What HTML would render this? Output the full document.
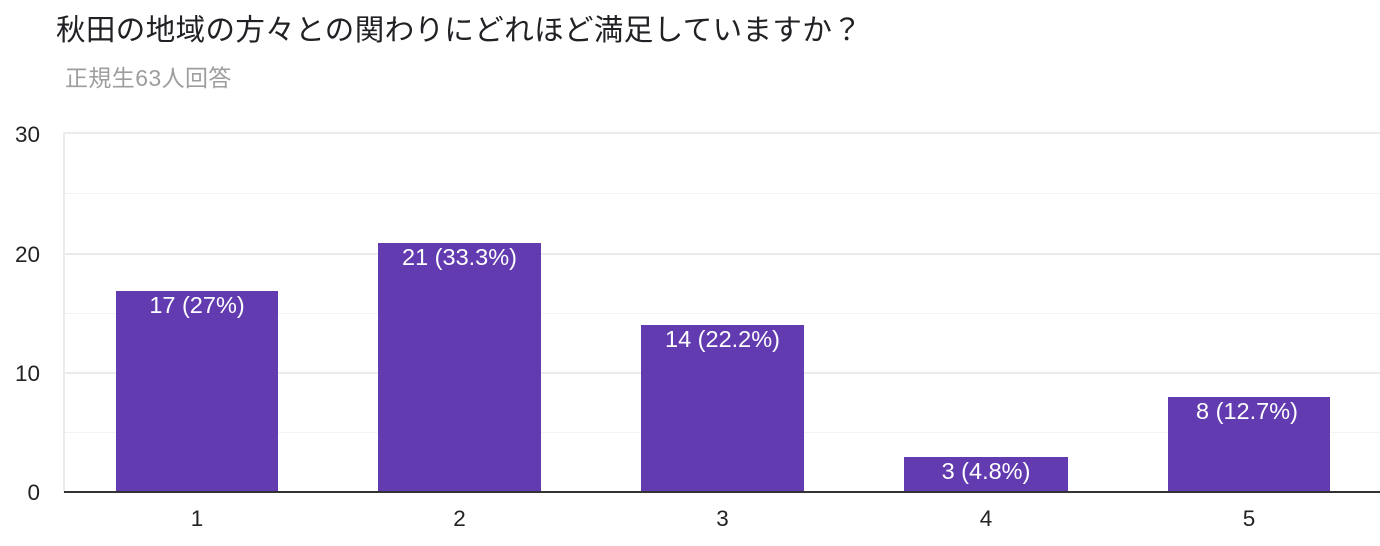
<!DOCTYPE html>
<html>
<head>
<meta charset="utf-8">
<style>
html,body{margin:0;padding:0;background:#fff;}
body{width:1380px;height:546px;overflow:hidden;}
svg{display:block;}
text{font-family:"Liberation Sans","Noto Sans CJK JP",sans-serif;}
</style>
</head>
<body>
<svg width="1380" height="546" viewBox="0 0 1380 546" xmlns="http://www.w3.org/2000/svg">
  <rect x="0" y="0" width="1380" height="546" fill="#fff"/>
  <text x="56" y="40" font-size="29.5" letter-spacing="0.4" fill="#202124" style="font-family:'Noto Sans CJK JP',sans-serif">秋田の地域の方々との関わりにどれほど満足していますか？</text>
  <text x="65" y="86" font-size="23" letter-spacing="0.4" fill="#9e9e9e" style="font-family:'Liberation Sans','Noto Sans CJK JP',sans-serif">正規生63人回答</text>

  <!-- minor gridlines -->
  <g fill="#f3f3f3">
    <rect x="64" y="193" width="1316" height="1"/>
    <rect x="64" y="313" width="1316" height="1"/>
    <rect x="64" y="432" width="1316" height="1"/>
  </g>
  <!-- major gridlines -->
  <g fill="#ebebeb">
    <rect x="64" y="132" width="1316" height="2"/>
    <rect x="64" y="253" width="1316" height="2"/>
    <rect x="64" y="372" width="1316" height="2"/>
    <rect x="63" y="132" width="2" height="360"/>
  </g>

  <!-- y labels -->
  <g font-size="22.5" fill="#222" text-anchor="end">
    <text x="40" y="142">30</text>
    <text x="40" y="262">20</text>
    <text x="40" y="381">10</text>
    <text x="40" y="500">0</text>
  </g>

  <!-- bars -->
  <g fill="#633bb0">
    <rect x="116" y="291" width="162" height="201"/>
    <rect x="378" y="243" width="163" height="249"/>
    <rect x="641" y="325" width="163" height="167"/>
    <rect x="904" y="457" width="164" height="35"/>
    <rect x="1168" y="397" width="162" height="95"/>
  </g>

  <!-- baseline -->
  <rect x="64" y="491" width="1316" height="2" fill="#333"/>

  <!-- bar labels -->
  <g font-size="23.5" fill="#fff" text-anchor="middle">
    <text x="197" y="313">17 (27%)</text>
    <text x="459.5" y="265">21 (33.3%)</text>
    <text x="722.5" y="347">14 (22.2%)</text>
    <text x="986" y="479">3 (4.8%)</text>
    <text x="1247" y="419">8 (12.7%)</text>
  </g>

  <!-- x labels -->
  <g font-size="22.5" fill="#222" text-anchor="middle">
    <text x="197" y="526">1</text>
    <text x="459.5" y="526">2</text>
    <text x="722.5" y="526">3</text>
    <text x="986" y="526">4</text>
    <text x="1249" y="526">5</text>
  </g>
</svg>
</body>
</html>
